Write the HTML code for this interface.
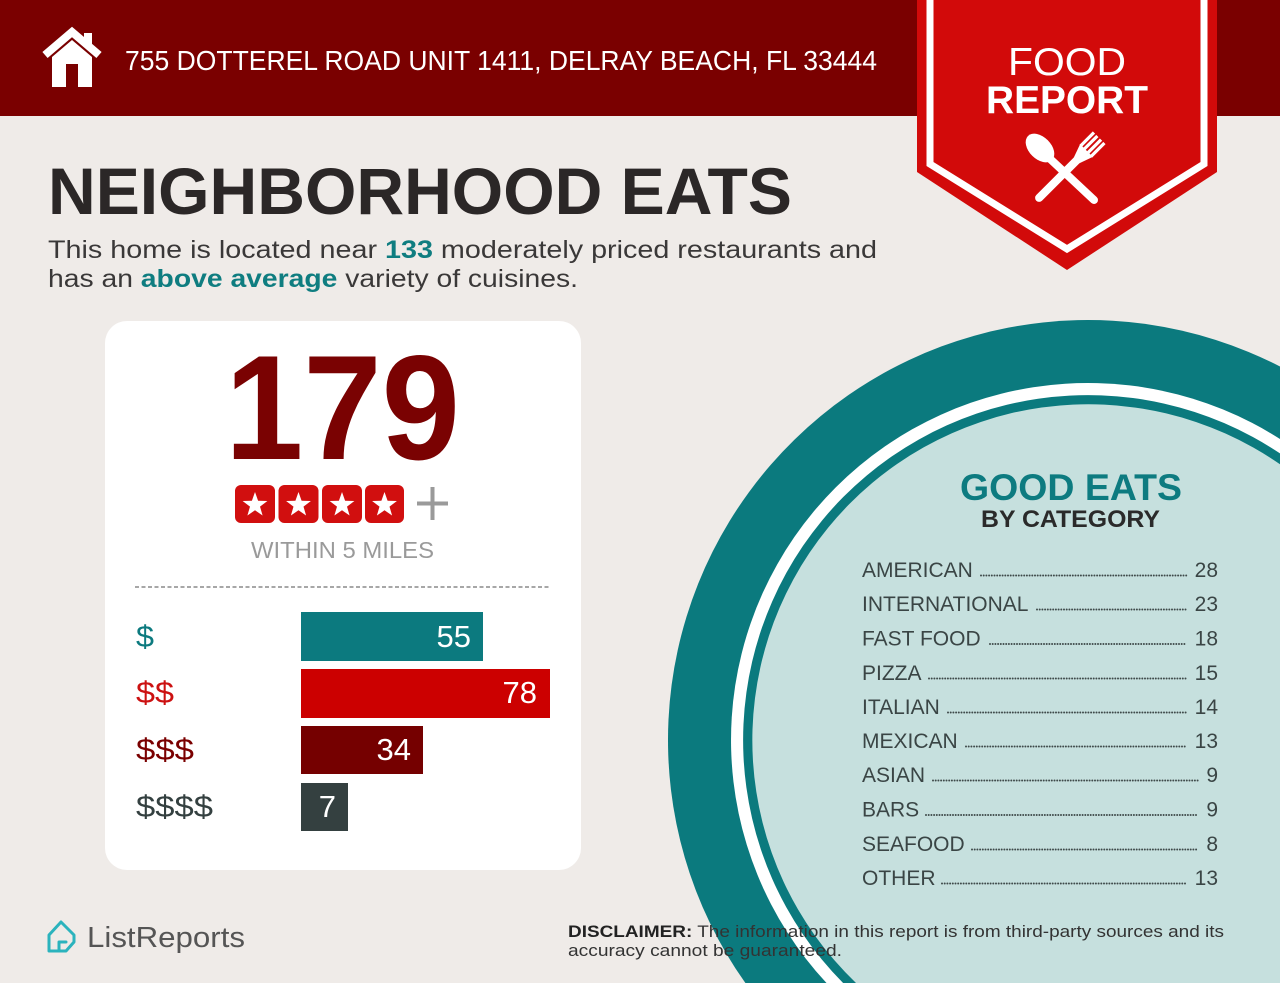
<!DOCTYPE html>
<html>
<head>
<meta charset="utf-8">
<style>
html,body{margin:0;padding:0;background:#efebe8;width:1280px;height:983px;overflow:hidden;}
svg{display:block;font-family:"Liberation Sans",sans-serif;position:absolute;left:0;top:0;}
</style>
</head>
<body>
<svg width="1280" height="983" viewBox="0 0 1280 983" xmlns="http://www.w3.org/2000/svg" overflow="hidden">
  <!-- background -->
  <rect x="0" y="0" width="1280" height="983" fill="#efebe8"/>

  <!-- header -->
  <rect x="0" y="0" width="1280" height="116" fill="#7a0000"/>
  <!-- house icon -->
  <polyline points="45,55 72,32 99,55" fill="none" stroke="#ffffff" stroke-width="8" stroke-linejoin="miter"/>
  <rect x="84" y="33" width="8" height="14" fill="#ffffff"/>
  <polygon points="52,57 72,40 92,57 92,87 78,87 78,64 66,64 66,87 52,87" fill="#ffffff"/>
  <text x="125" y="70" font-size="28" fill="#ffffff" textLength="752" lengthAdjust="spacingAndGlyphs">755 DOTTEREL ROAD UNIT 1411, DELRAY BEACH, FL 33444</text>

  <!-- badge -->
  <polygon points="917,0 1217,0 1217,172 1067,270 917,172" fill="#d20a0a"/>
  <polyline points="930,0 930,164 1067,249 1204,164 1204,0" fill="none" stroke="#ffffff" stroke-width="7"/>
  <text x="1008" y="75" font-size="39" fill="#ffffff" textLength="118" lengthAdjust="spacingAndGlyphs">FOOD</text>
  <text x="986" y="113" font-size="39" font-weight="bold" fill="#ffffff" textLength="162" lengthAdjust="spacingAndGlyphs">REPORT</text>
  <!-- spoon -->
  <ellipse cx="1040" cy="148" rx="11" ry="17" transform="rotate(-45 1040 148)" fill="#ffffff"/>
  <line x1="1047" y1="156" x2="1094" y2="200" stroke="#ffffff" stroke-width="8" stroke-linecap="round"/>
  <!-- fork -->
  <g transform="translate(1078,159) rotate(45)" fill="#ffffff">
    <line x1="0" y1="0" x2="0" y2="55" stroke="#ffffff" stroke-width="8" stroke-linecap="round"/>
    <polygon points="-4,2 4,2 9,-12 -9,-12"/>
    <rect x="-9" y="-30" width="3.2" height="19"/>
    <rect x="-4.2" y="-30" width="3.2" height="19"/>
    <rect x="1" y="-30" width="3.2" height="19"/>
    <rect x="5.8" y="-30" width="3.2" height="19"/>
  </g>

  <!-- title -->
  <text x="48" y="214" font-size="66" font-weight="bold" fill="#2b2727" textLength="744" lengthAdjust="spacingAndGlyphs">NEIGHBORHOOD EATS</text>
  <text x="48" y="258" font-size="25" fill="#3a3838" textLength="829" lengthAdjust="spacingAndGlyphs">This home is located near <tspan font-weight="bold" fill="#0f7d80">133</tspan> moderately priced restaurants and</text>
  <text x="48" y="287" font-size="25" fill="#3a3838" textLength="530" lengthAdjust="spacingAndGlyphs">has an <tspan font-weight="bold" fill="#0f7d80">above average</tspan> variety of cuisines.</text>

  <!-- card -->
  <rect x="105" y="321" width="476" height="549" rx="22" ry="22" fill="#ffffff"/>
  <text x="225" y="459" font-size="149" font-weight="bold" fill="#7a0202" textLength="235" lengthAdjust="spacingAndGlyphs">179</text>

  <!-- stars -->
  <g>
    <rect x="235" y="485" width="40" height="38" rx="6" fill="#d10f0f"/>
    <rect x="278.5" y="485" width="40" height="38" rx="6" fill="#d10f0f"/>
    <rect x="322" y="485" width="40" height="38" rx="6" fill="#d10f0f"/>
    <rect x="365" y="485" width="39" height="38" rx="6" fill="#d10f0f"/>
    <g fill="#ffffff">
      <polygon transform="translate(255,505)" points="0,-13 3.1,-4.3 12.4,-4 5,1.6 7.6,10.5 0,5.3 -7.6,10.5 -5,1.6 -12.4,-4 -3.1,-4.3"/>
      <polygon transform="translate(298.5,505)" points="0,-13 3.1,-4.3 12.4,-4 5,1.6 7.6,10.5 0,5.3 -7.6,10.5 -5,1.6 -12.4,-4 -3.1,-4.3"/>
      <polygon transform="translate(342,505)" points="0,-13 3.1,-4.3 12.4,-4 5,1.6 7.6,10.5 0,5.3 -7.6,10.5 -5,1.6 -12.4,-4 -3.1,-4.3"/>
      <polygon transform="translate(384.5,505)" points="0,-13 3.1,-4.3 12.4,-4 5,1.6 7.6,10.5 0,5.3 -7.6,10.5 -5,1.6 -12.4,-4 -3.1,-4.3"/>
    </g>
    <line x1="417" y1="503.5" x2="448" y2="503.5" stroke="#9a9a9a" stroke-width="4"/>
    <line x1="432.5" y1="487" x2="432.5" y2="520" stroke="#9a9a9a" stroke-width="4"/>
  </g>
  <text x="251" y="558" font-size="23" fill="#9a9a9a" textLength="183" lengthAdjust="spacingAndGlyphs">WITHIN 5 MILES</text>

  <line x1="135" y1="587" x2="550" y2="587" stroke="#8a8a8a" stroke-width="1.5" stroke-dasharray="4 2.5"/>

  <!-- bars -->
  <text x="136" y="647" font-size="31" fill="#0c7a7f" textLength="18" lengthAdjust="spacingAndGlyphs">$</text>
  <text x="136" y="703" font-size="31" fill="#cc1111" textLength="38" lengthAdjust="spacingAndGlyphs">$$</text>
  <text x="136" y="760" font-size="31" fill="#7a0000" textLength="58" lengthAdjust="spacingAndGlyphs">$$$</text>
  <text x="136" y="817" font-size="31" fill="#344040" textLength="77" lengthAdjust="spacingAndGlyphs">$$$$</text>

  <rect x="301" y="612" width="182" height="49" fill="#0c7a7f"/>
  <rect x="301" y="669" width="249" height="49" fill="#cc0000"/>
  <rect x="301" y="726" width="122" height="48" fill="#750000"/>
  <rect x="301" y="783" width="47" height="48" fill="#344040"/>
  <text x="471" y="647" font-size="31" fill="#ffffff" text-anchor="end">55</text>
  <text x="537" y="703" font-size="31" fill="#ffffff" text-anchor="end">78</text>
  <text x="411" y="760" font-size="31" fill="#ffffff" text-anchor="end">34</text>
  <text x="336" y="817" font-size="31" fill="#ffffff" text-anchor="end">7</text>

  <!-- circle (clipped to frame as paths) -->
  <path d="M745.4,983 A420,420 0 0 1 1280,366.5 L1280,983 Z" fill="#0b7a7e"/>
  <path d="M826.5,983 A357,357 0 0 1 1280,439 L1280,983 Z" fill="#ffffff"/>
  <path d="M843.1,983 A345,345 0 0 1 1280,453.4 L1280,983 Z" fill="#0b7a7e"/>
  <path d="M856,983 A336,336 0 0 1 1280,464.3 L1280,983 Z" fill="#c6e0de"/>

  <text x="960" y="500" font-size="37" font-weight="bold" fill="#0d7b80" textLength="222" lengthAdjust="spacingAndGlyphs">GOOD EATS</text>
  <text x="981" y="527" font-size="24.5" font-weight="bold" fill="#2a2a2a" textLength="179" lengthAdjust="spacingAndGlyphs">BY CATEGORY</text>

  <g font-size="21" fill="#3a4545">
    <text x="862" y="577">AMERICAN</text>
    <text x="862" y="611">INTERNATIONAL</text>
    <text x="862" y="645.5">FAST FOOD</text>
    <text x="862" y="680">PIZZA</text>
    <text x="862" y="714">ITALIAN</text>
    <text x="862" y="748">MEXICAN</text>
    <text x="862" y="782">ASIAN</text>
    <text x="862" y="816.5">BARS</text>
    <text x="862" y="851">SEAFOOD</text>
    <text x="862" y="885">OTHER</text>
    <g text-anchor="end">
      <text x="1218" y="577">28</text>
      <text x="1218" y="611">23</text>
      <text x="1218" y="645.5">18</text>
      <text x="1218" y="680">15</text>
      <text x="1218" y="714">14</text>
      <text x="1218" y="748">13</text>
      <text x="1218" y="782">9</text>
      <text x="1218" y="816.5">9</text>
      <text x="1218" y="851">8</text>
      <text x="1218" y="885">13</text>
    </g>
  </g>
  <g stroke="#3f4a4a" stroke-width="2" stroke-linecap="round" stroke-dasharray="0 2.7">
    <line x1="981" y1="575.5" x2="1187" y2="575.5"/>
    <line x1="1037" y1="609.5" x2="1187" y2="609.5"/>
    <line x1="990" y1="644" x2="1187" y2="644"/>
    <line x1="929" y1="678.5" x2="1187" y2="678.5"/>
    <line x1="948" y1="712.5" x2="1187" y2="712.5"/>
    <line x1="966" y1="746.5" x2="1187" y2="746.5"/>
    <line x1="933" y1="780.5" x2="1198" y2="780.5"/>
    <line x1="926" y1="815" x2="1198" y2="815"/>
    <line x1="972" y1="849.5" x2="1198" y2="849.5"/>
    <line x1="942" y1="883.5" x2="1187" y2="883.5"/>
  </g>

  <!-- footer -->
  <g fill="none" stroke="#2bb3bd" stroke-width="3" stroke-linejoin="round" stroke-linecap="round">
    <path d="M49,951 L49,935 L61,922 L74,935 L74,942 L66,951 Z"/>
    <path d="M59,951 L59,942 L66,942"/>
  </g>
  <text x="87" y="947" font-size="29" fill="#555555" textLength="158" lengthAdjust="spacingAndGlyphs">ListReports</text>

  <text x="568" y="937" font-size="17" fill="#333333" textLength="656" lengthAdjust="spacingAndGlyphs"><tspan font-weight="bold" fill="#222222">DISCLAIMER:</tspan> The information in this report is from third-party sources and its</text>
  <text x="568" y="956" font-size="17" fill="#333333" textLength="274" lengthAdjust="spacingAndGlyphs">accuracy cannot be guaranteed.</text>
</svg>
</body>
</html>
